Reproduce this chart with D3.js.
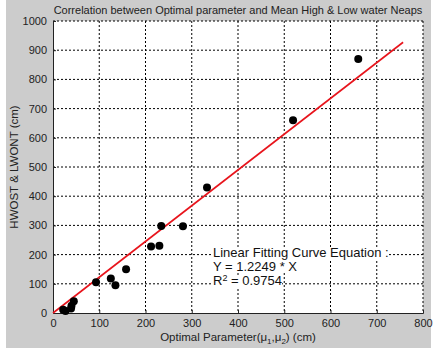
<!DOCTYPE html>
<html>
<head>
<meta charset="utf-8">
<script src="https://cdn.jsdelivr.net/npm/d3@7"></script>
<style>
  body { margin: 0; background: #fff; }
  svg { display: block; font-family: "Liberation Sans", Arial, sans-serif; }
</style>
</head>
<body>
<div id="chart"></div>
<script>
// data
var optParam = [22, 27, 39, 40, 45, 93, 125, 135, 158, 212, 230, 234, 281, 333, 519, 660];
var hwLw     = [11, 7, 15, 25, 40, 105, 118, 95, 150, 228, 230, 298, 297, 430, 660, 870];
var xTicks = [0, 100, 200, 300, 400, 500, 600, 700, 800];
var yTicks = [0, 100, 200, 300, 400, 500, 600, 700, 800, 900, 1000];
var slope = 1.2249;
var fitRange = [0, 757];
var eqLines = ['Linear Fitting Curve Equation :', 'Y = 1.2249 * X'];

var W = 436, H = 352;
var m = { left: 53, top: 21, right: 13, bottom: 39 };
var w = W - m.left - m.right, h = H - m.top - m.bottom;

var svg = d3.select('#chart').append('svg').attr('width', W).attr('height', H);
// figure background (grey panel with white edge)
svg.append('rect').attr('x', 6).attr('y', 0).attr('width', 425).attr('height', 348).attr('fill', '#cccccc');

var g = svg.append('g').attr('transform', 'translate(' + m.left + ',' + m.top + ')');
g.append('rect').attr('width', w).attr('height', h).attr('fill', '#fff');

var x = d3.scaleLinear().domain([0, 800]).range([0, w]);
var y = d3.scaleLinear().domain([0, 1000]).range([h, 0]);

// grid
g.append('g').selectAll('line').data(xTicks.slice(1)).enter().append('line')
  .attr('x1', function (d) { return x(d); }).attr('x2', function (d) { return x(d); })
  .attr('y1', 0).attr('y2', h)
  .attr('stroke', '#000').attr('stroke-width', 1).attr('stroke-dasharray', '2,2');
g.append('g').selectAll('line').data(yTicks.slice(1)).enter().append('line')
  .attr('x1', 0).attr('x2', w)
  .attr('y1', function (d) { return y(d); }).attr('y2', function (d) { return y(d); })
  .attr('stroke', '#000').attr('stroke-width', 1).attr('stroke-dasharray', '2,2');

// axes
var xAxis = d3.axisBottom(x).tickValues(xTicks).tickFormat(d3.format('d')).tickSize(-3).tickPadding(6);
var yAxis = d3.axisLeft(y).tickValues(yTicks).tickFormat(d3.format('d')).tickSize(-3).tickPadding(6);
g.append('g').attr('transform', 'translate(0,' + h + ')').call(xAxis).call(customAxis);
g.append('g').call(yAxis).call(customAxis);

function customAxis(ax) {
  ax.select('.domain').attr('stroke', '#222');
  ax.selectAll('.tick line').attr('stroke', '#222');
  ax.selectAll('.tick text').attr('fill', '#222').style('font-size', '11px')
    .style('font-family', '"Liberation Sans", Arial, sans-serif');
}

// fitted line
g.append('line')
  .attr('x1', x(fitRange[0])).attr('y1', y(slope * fitRange[0]))
  .attr('x2', x(fitRange[1])).attr('y2', y(slope * fitRange[1]))
  .attr('stroke', '#e8141c').attr('stroke-width', 1.6);

// points
g.selectAll('.dot').data(optParam).enter().append('circle')
  .attr('cx', function (d) { return x(d); })
  .attr('cy', function (d, i) { return y(hwLw[i]); })
  .attr('r', 4).attr('fill', '#000');

// equation text with white background
var tx = 160, ty = 236;
var eq = g.append('g').attr('transform', 'translate(' + tx + ',' + ty + ')');
var lines = eqLines.map(function (s, i) {
  return eq.append('text').attr('x', 0).attr('y', i * 14).style('font-size', '13px').attr('fill', '#111').text(s);
});
var r2 = eq.append('text').attr('x', 0).attr('y', 2 * 14).style('font-size', '13px').attr('fill', '#111');
r2.append('tspan').text('R');
r2.append('tspan').attr('dy', -4).style('font-size', '9px').text('2');
r2.append('tspan').attr('dy', 4).text(' = 0.9754');
lines.push(r2);
lines.forEach(function (t) {
  var b = t.node().getBBox();
  eq.insert('rect', 'text').attr('x', b.x).attr('y', b.y + 2).attr('width', b.width).attr('height', b.height - 3).attr('fill', '#fff');
});

// title & labels
svg.append('text').attr('x', m.left + w / 2).attr('y', 14).attr('text-anchor', 'middle')
  .style('font-size', '11px').attr('fill', '#222')
  .text('Correlation between Optimal parameter and Mean High & Low water Neaps');

var xl = svg.append('text').attr('x', m.left + w / 2).attr('y', 341).attr('text-anchor', 'middle')
  .style('font-size', '11.5px').attr('fill', '#222');
xl.append('tspan').text('Optimal Parameter(\u03bc');
xl.append('tspan').attr('dy', 3).style('font-size', '8px').text('1');
xl.append('tspan').attr('dy', -3).text(',\u03bc');
xl.append('tspan').attr('dy', 3).style('font-size', '8px').text('2');
xl.append('tspan').attr('dy', -3).text(') (cm)');

svg.append('text').attr('transform', 'translate(18,' + (m.top + h / 2) + ') rotate(-90)')
  .attr('text-anchor', 'middle').style('font-size', '11.5px').attr('fill', '#222')
  .text('HWOST & LWONT (cm)');
</script>
</body>
</html>
